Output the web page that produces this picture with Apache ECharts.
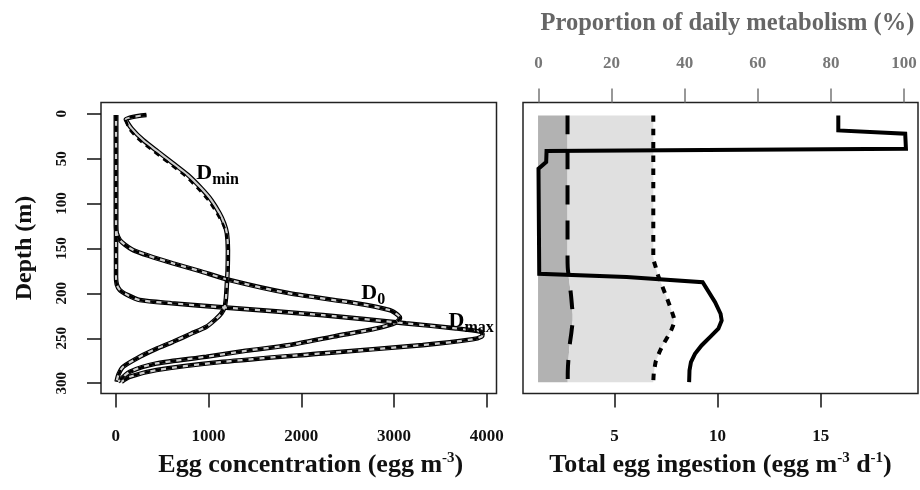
<!DOCTYPE html>
<html>
<head>
<meta charset="utf-8">
<script src="https://cdn.jsdelivr.net/npm/echarts@6.0.0/dist/echarts.min.js"></script>
<style>
html,body{margin:0;padding:0;background:#fff;}
#chart{width:920px;height:490px;}
</style>
</head>
<body>
<div id="chart"></div>
<script>
// ---------- tick labels ----------
const depthTicks = [0, 50, 100, 150, 200, 250, 300];
const concTicks = [0, 1000, 2000, 3000, 4000];
const ingestTicks = [5, 10, 15];
const pctTicks = [0, 20, 40, 60, 80, 100];

// ---------- left panel: egg concentration profiles ----------
const dminDepth = [1.4, 6.2, 16.3, 29.3, 42.3, 55.2, 68.3, 83.1, 96.1, 110.9, 122, 133.2, 151.8, 174, 188.9, 205, 214.9, 222.3, 229, 237.2, 245, 253.9, 262, 270.6, 281.7, 290, 298.4];
const dminConc  = [330, 108, 169, 294, 455, 617, 778, 922, 1030, 1119, 1168, 1198, 1209, 1206, 1198, 1188, 1174, 1138, 1075, 977, 810, 617, 430, 258, 79, 30, 8];
const dminFit   = [330, 108, 140, 255, 412, 575, 738, 884, 995, 1090, 1150, 1192, 1209, 1206, 1198, 1188, 1174, 1138, 1075, 977, 810, 617, 430, 258, 79, 30, 8];

const d0Depth = [1.4, 125, 133, 140.6, 146, 151.8, 158, 166.6, 175, 185.2, 200, 211.1, 218.6, 224, 227.8, 231, 234.2, 240.1, 248, 257.6, 264, 270.6, 278, 287.3, 298.4];
const d0Conc  = [2, 2, 10, 43, 100, 186, 350, 617, 900, 1227, 1873, 2592, 2950, 3040, 3065, 3040, 2986, 2770, 2350, 1873, 1400, 977, 438, 151, 25];

const dmaxDepth = [1.4, 181.5, 190, 196.3, 202, 207.5, 211, 215.6, 224.2, 233.4, 239, 242.8, 245.5, 248, 251.2, 257.6, 266.8, 276.2, 285.4, 292.9, 298.4];
const dmaxConc  = [2, 2, 10, 43, 130, 258, 600, 1155, 2232, 3130, 3668, 3938, 3955, 3948, 3847, 3309, 2232, 1155, 438, 151, 61];

// curve labels [concentration, depth]
const curveLabels = [
  {name: 'min', pos: [1098, 66]},
  {name: '0',   pos: [2777, 199.7]},
  {name: 'max', pos: [3832, 231]}
];

// ---------- right panel ----------
// proportion of daily metabolism (%), solid line
const totalDepth = [1.9, 18.6, 22.3, 39.0, 41.6, 53.9, 61.2, 178.2, 181.9, 187.5, 209.8, 222.7, 230.2, 239.4, 248.8, 258, 267.3, 276.6, 285.9, 298.9];
const totalPct   = [82.0, 82.0, 100.3, 100.5, 2.2, 2.1, 0, 0.2, 24.1, 44.9, 48.3, 49.8, 50.1, 49.2, 46.9, 44.6, 42.8, 41.7, 41.3, 41.2];

// egg ingestion (egg m-3 d-1), dashed & dotted, with shading
const ingestDepth = [1.9, 60, 120, 160, 171, 178, 186, 200, 215, 223, 230, 241, 245, 260, 275, 282, 290, 298.9];
const ingestDashed = [2.72, 2.72, 2.72, 2.72, 2.73, 2.76, 2.80, 2.88, 2.94, 2.97, 2.97, 2.92, 2.90, 2.81, 2.76, 2.74, 2.73, 2.73];
const ingestDotted = [6.88, 6.88, 6.88, 6.88, 7.00, 7.08, 7.21, 7.45, 7.70, 7.82, 7.90, 7.75, 7.66, 7.29, 7.01, 6.95, 6.90, 6.88];
const shadeBase = 1.29;

// ---------- build ----------
const F = 'Liberation Serif';
const pair = (xs, ys) => xs.map((x, i) => [x, ys[i]]);
const plain = v => String(v);

const chart = echarts.init(document.getElementById('chart'), null, {renderer: 'canvas'});

function profileSeries(conc, depth, fit) {
  return [
    {type: 'line', xAxisIndex: 0, yAxisIndex: 0, data: pair(conc, depth), showSymbol: false, symbol: 'none', smooth: 0.25,
     lineStyle: {color: '#000', width: 4.6}, z: 3, silent: true},
    {type: 'line', xAxisIndex: 0, yAxisIndex: 0, data: pair(conc, depth), showSymbol: false, symbol: 'none', smooth: 0.25,
     lineStyle: {color: '#cfcfcf', width: 2.2}, z: 4, silent: true},
    {type: 'line', xAxisIndex: 0, yAxisIndex: 0, data: pair(fit, depth), showSymbol: false, symbol: 'none', smooth: 0.25,
     lineStyle: {color: '#000', width: 2.6, type: [6, 5], cap: 'butt'}, z: 5, silent: true}
  ];
}

function shadeSeries(leftFn, rightVals, color, z) {
  return {
    type: 'custom', xAxisIndex: 1, yAxisIndex: 1, data: [[shadeBase, 0]], silent: true, z: z,
    renderItem: function (params, api) {
      const pts = [];
      for (let i = 0; i < ingestDepth.length; i++) pts.push(api.coord([leftFn(i), ingestDepth[i]]));
      for (let i = ingestDepth.length - 1; i >= 0; i--) pts.push(api.coord([rightVals[i], ingestDepth[i]]));
      return {type: 'polygon', shape: {points: pts}, style: {fill: color}};
    }
  };
}

const tickStyle = {color: '#111', width: 1.5};
const labelBase = {fontFamily: F, fontWeight: 'bold', color: '#111', formatter: plain};
const noLine = {show: false, onZero: false};

const option = {
  animation: false,
  backgroundColor: '#fff',
  grid: [
    {left: 101, top: 102.5, width: 395.5, height: 291, show: true, borderColor: '#222', borderWidth: 1.5, backgroundColor: 'transparent'},
    {left: 523, top: 102.5, width: 395, height: 291, show: true, borderColor: '#222', borderWidth: 1.5, backgroundColor: 'transparent'}
  ],
  xAxis: [
    {type: 'value', gridIndex: 0, position: 'bottom', min: -160, max: 4106,
     axisLine: noLine, splitLine: {show: false},
     axisTick: {show: true, inside: false, length: 14, lineStyle: tickStyle, customValues: concTicks},
     axisLabel: Object.assign({fontSize: 17, margin: 35, customValues: concTicks}, labelBase),
     name: '{t|Egg concentration (egg m}{s|-3}{t|)}', nameLocation: 'middle', nameGap: 52,
     nameTextStyle: {padding: [0, 0, 0, 24], rich: {
       t: {fontFamily: F, fontWeight: 'bold', fontSize: 26, lineHeight: 30, color: '#111'},
       s: {fontFamily: F, fontWeight: 'bold', fontSize: 15, lineHeight: 15, verticalAlign: 'top', color: '#111'}}}},
    {type: 'value', gridIndex: 1, position: 'bottom', min: 0.56, max: 19.72,
     axisLine: noLine, splitLine: {show: false},
     axisTick: {show: true, inside: false, length: 14, lineStyle: tickStyle, customValues: ingestTicks},
     axisLabel: Object.assign({fontSize: 17, margin: 35, customValues: ingestTicks}, labelBase),
     name: '{t|Total egg ingestion (egg m}{s|-3}{t| d}{s|-1}{t|)}', nameLocation: 'middle', nameGap: 52,
     nameTextStyle: {rich: {
       t: {fontFamily: F, fontWeight: 'bold', fontSize: 26, lineHeight: 30, color: '#111'},
       s: {fontFamily: F, fontWeight: 'bold', fontSize: 15, lineHeight: 15, verticalAlign: 'top', color: '#111'}}}},
    {type: 'value', gridIndex: 1, position: 'top', min: -4.24, max: 103.8,
     axisLine: noLine, splitLine: {show: false},
     axisTick: {show: true, inside: false, length: 14, lineStyle: {color: '#777', width: 1.5}, customValues: pctTicks},
     axisLabel: {fontSize: 17, margin: 30, fontFamily: F, fontWeight: 'bold', color: '#777', formatter: plain, customValues: pctTicks},
     name: 'Proportion of daily metabolism (%)', nameLocation: 'middle', nameGap: 66,
     nameTextStyle: {fontFamily: F, fontWeight: 'bold', fontSize: 24.5, color: '#666', padding: [0, 0, 0, 14]}}
  ],
  yAxis: [
    {type: 'value', gridIndex: 0, inverse: true, min: -12.5, max: 311.5,
     axisLine: noLine, splitLine: {show: false},
     axisTick: {show: true, inside: false, length: 14, lineStyle: tickStyle, customValues: depthTicks},
     axisLabel: Object.assign({fontSize: 15, rotate: 90, margin: 31, customValues: depthTicks}, labelBase),
     name: 'Depth (m)', nameLocation: 'middle', nameRotate: 90, nameGap: 64,
     nameTextStyle: {fontFamily: F, fontWeight: 'bold', fontSize: 24, color: '#111'}},
    {type: 'value', gridIndex: 1, inverse: true, min: -12.5, max: 311.5,
     axisLine: noLine, splitLine: {show: false}, axisTick: {show: false}, axisLabel: {show: false}}
  ],
  series: [
    ...profileSeries(dminConc, dminDepth, dminFit),
    ...profileSeries(d0Conc, d0Depth, d0Conc),
    ...profileSeries(dmaxConc, dmaxDepth, dmaxConc),
    {type: 'scatter', xAxisIndex: 0, yAxisIndex: 0, symbolSize: 1, itemStyle: {color: 'rgba(0,0,0,0)'}, silent: true, z: 6,
     data: curveLabels.map(c => ({value: c.pos, sub: c.name})),
     label: {show: true, position: 'inside', color: '#000', textBorderWidth: 0, opacity: 1,
       formatter: p => '{d|D}{b|' + p.data.sub + '}',
       rich: {
         d: {fontFamily: F, fontWeight: 'bold', fontSize: 22, lineHeight: 22, verticalAlign: 'top', color: '#000', textBorderWidth: 0},
         b: {fontFamily: F, fontWeight: 'bold', fontSize: 16, lineHeight: 16, padding: [10, 0, 0, 0], verticalAlign: 'top', color: '#000', textBorderWidth: 0}
       }}},
    shadeSeries(() => shadeBase, ingestDashed, '#b2b2b2', 1),
    shadeSeries(i => ingestDashed[i], ingestDotted, '#e0e0e0', 1),
    {type: 'line', xAxisIndex: 1, yAxisIndex: 1, data: pair(ingestDashed, ingestDepth), symbol: 'none', smooth: 0.3,
     lineStyle: {color: '#000', width: 4, type: [19, 16], cap: 'butt'}, z: 3, silent: true},
    {type: 'line', xAxisIndex: 1, yAxisIndex: 1, data: pair(ingestDotted, ingestDepth), symbol: 'none', smooth: 0.3,
     lineStyle: {color: '#000', width: 4, type: [6.5, 6.8], cap: 'butt'}, z: 3, silent: true},
    {type: 'line', xAxisIndex: 2, yAxisIndex: 1, data: pair(totalPct, totalDepth), symbol: 'none', smooth: false,
     lineStyle: {color: '#000', width: 4, join: 'miter'}, z: 4, silent: true}
  ]
};
chart.setOption(option);
</script>
</body>
</html>
